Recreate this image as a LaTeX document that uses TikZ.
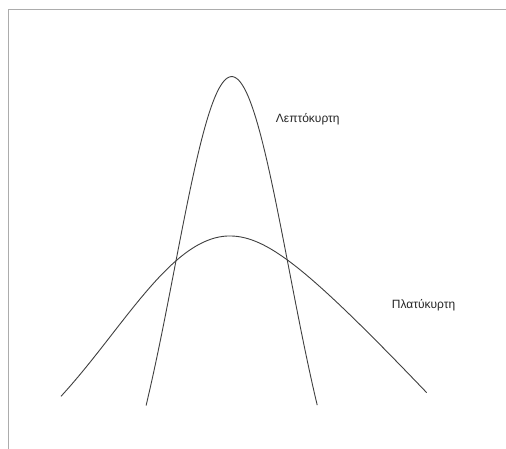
\documentclass[tikz,border=0pt]{standalone}
\usepackage{fontspec}
\setmainfont{Liberation Sans}
\begin{document}
\begin{tikzpicture}[x=1pt,y=-1pt,
  frame/.style={draw=gray!65,line width=1.3pt},
  curve/.style={draw=black!75,line width=0.9pt,samples=90,smooth},
  lbl/.style={anchor=base west,inner sep=0pt,font=\fontsize{12}{14}\selectfont,text=black!85}]
\useasboundingbox (0,0) rectangle (506,449);
\fill[white] (0,0) rectangle (506,449);
% frame
\draw[frame] (8.3,449) -- (8.3,9.3) -- (506,9.3);
% leptokurtic curve
\draw[curve,domain=-0.856:0.856] plot ({231.7+100*\x},{76.7+489*(1-exp(-\x*\x/0.6567))});
% platykurtic curve, left and right halves
\draw[curve,domain=-1.69:0] plot ({230+100*\x},{236+250*(1-exp(-\x*\x/2.7855))});
\draw[curve,domain=0:1.967] plot ({230+100*\x},{236+110*(sqrt(\x*\x+0.4173)-0.646)});
% labels
\node[lbl] (lepto) at (275.7,122.7) {Λεπτόκυρτη};
\node[lbl] (platy) at (391.7,308.3) {Πλατύκυρτη};
\end{tikzpicture}
\end{document}
